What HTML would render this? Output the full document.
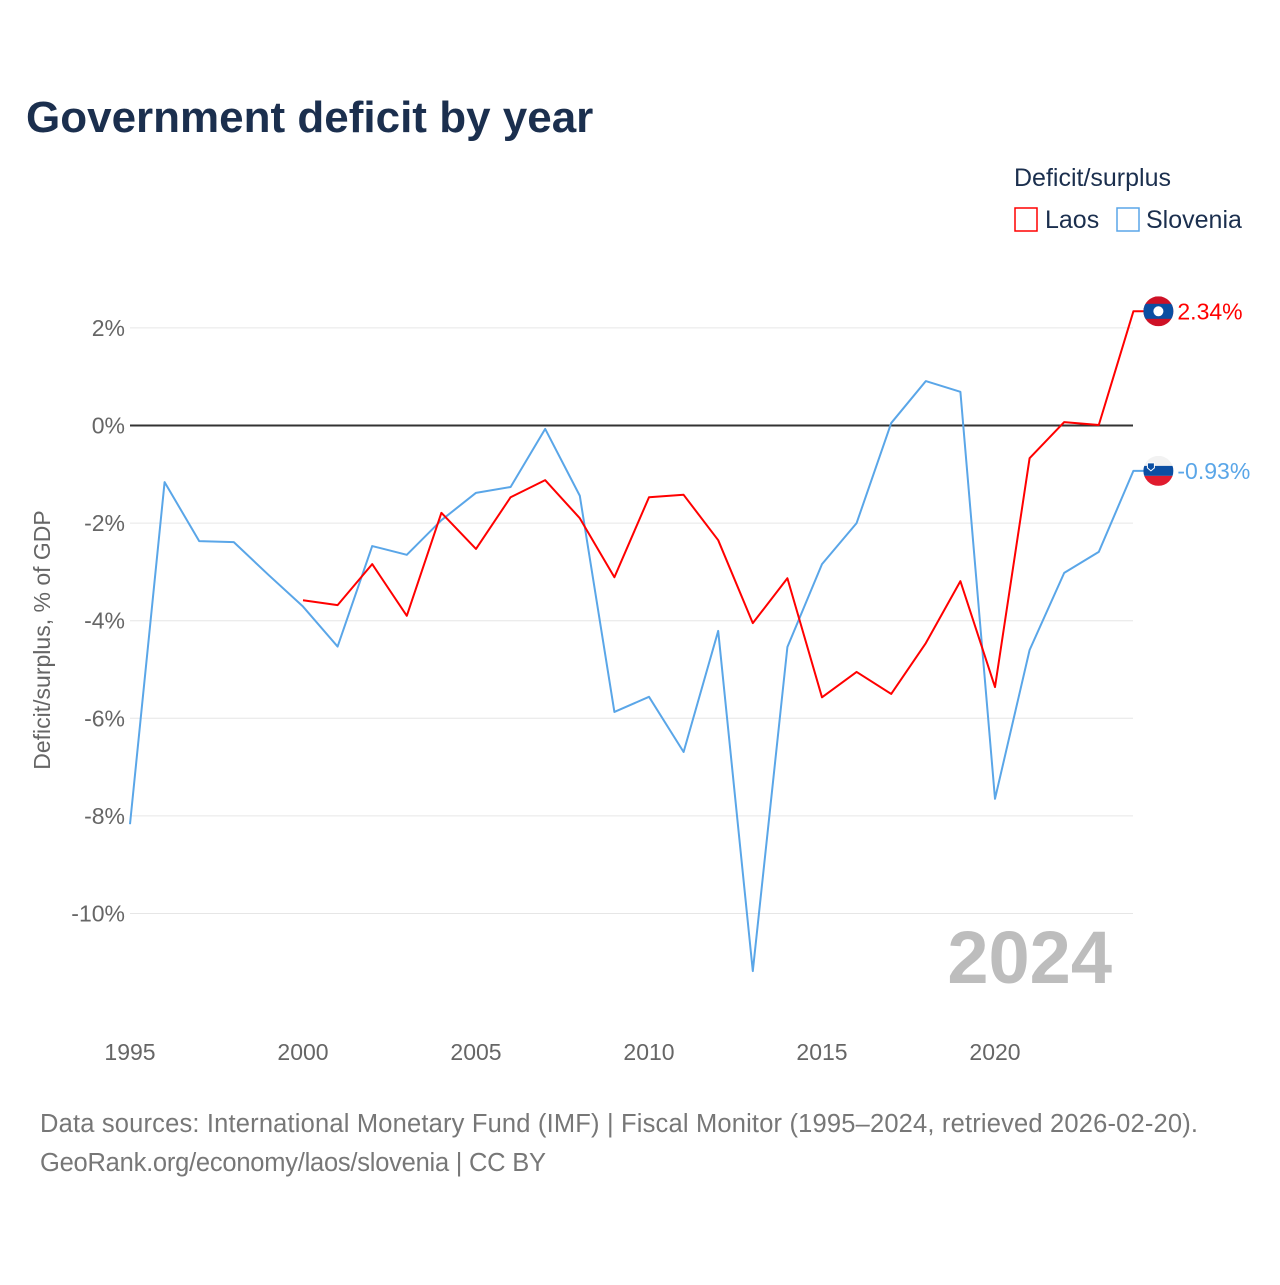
<!DOCTYPE html>
<html><head><meta charset="utf-8"><style>
body{margin:0;background:#fff;width:1280px;height:1280px;overflow:hidden;font-family:"Liberation Sans",sans-serif}
</style></head><body>
<svg width="1280" height="1280" xmlns="http://www.w3.org/2000/svg" font-family="Liberation Sans, sans-serif">
<defs><clipPath id="lc"><circle id="lcc" r="15"/></clipPath><clipPath id="sc"><circle id="scc" r="15"/></clipPath></defs>
<text x="26" y="132" font-size="44" font-weight="bold" fill="#1b2f4e">Government deficit by year</text>
<text x="1014" y="186" font-size="25" fill="#1b2f4e">Deficit/surplus</text>
<g><rect x="1015" y="208" width="22" height="23" fill="none" stroke="#f00" stroke-width="1.5"/><text x="1045" y="228" font-size="25" fill="#1b2f4e">Laos</text></g>
<g><rect x="1117" y="208" width="22" height="23" fill="none" stroke="#5aa6e8" stroke-width="1.5"/><text x="1146" y="228" font-size="25" fill="#1b2f4e">Slovenia</text></g>
<g id="grid"></g>
<g id="ticks"></g>
<text transform="translate(50,640) rotate(-90)" text-anchor="middle" font-size="23" fill="#666">Deficit/surplus, % of GDP</text>
<text x="1112" y="983" text-anchor="end" font-size="74" font-weight="bold" fill="#bdbdbd">2024</text>
<g id="series"></g>
<text x="40" y="1132" font-size="25.5" fill="#777" textLength="1158">Data sources: International Monetary Fund (IMF) | Fiscal Monitor (1995–2024, retrieved 2026-02-20).</text>
<text x="40" y="1171" font-size="25.5" fill="#777" textLength="506">GeoRank.org/economy/laos/slovenia | CC BY</text>
</svg>
<script>
const years=[1995,1996,1997,1998,1999,2000,2001,2002,2003,2004,2005,2006,2007,2008,2009,2010,2011,2012,2013,2014,2015,2016,2017,2018,2019,2020,2021,2022,2023,2024];
const slovenia=[-8.17,-1.16,-2.37,-2.39,-3.06,-3.71,-4.53,-2.47,-2.65,-1.94,-1.38,-1.26,-0.07,-1.44,-5.87,-5.56,-6.69,-4.21,-11.18,-4.54,-2.84,-2.0,0.05,0.91,0.69,-7.65,-4.6,-3.02,-2.59,-0.93];
const laos=[null,null,null,null,null,-3.58,-3.68,-2.84,-3.9,-1.79,-2.53,-1.47,-1.12,-1.9,-3.11,-1.47,-1.42,-2.35,-4.05,-3.13,-5.57,-5.05,-5.5,-4.46,-3.19,-5.36,-0.67,0.07,0.01,2.34];
const yTicks=[2,0,-2,-4,-6,-8,-10];
const xTicks=[1995,2000,2005,2010,2015,2020];
const NS="http://www.w3.org/2000/svg";
const X=v=>130+(v-1995)*34.6;
const Y=v=>425.5-v*48.8;
function mk(t,a,p){const e=document.createElementNS(NS,t);for(const k in a)e.setAttribute(k,a[k]);p.appendChild(e);return e;}
const grid=document.getElementById('grid'),ticks=document.getElementById('ticks'),ser=document.getElementById('series');
yTicks.forEach(v=>{
 const l=mk('line',{x1:130,x2:1133,y1:Y(v),y2:Y(v),stroke:v===0?'#333':'#e6e6e6','stroke-width':v===0?2:1},grid);
 
 
 const t=mk('text',{x:125,y:Y(v)+8,'text-anchor':'end','font-size':23,fill:'#666'},ticks);
 t.textContent=v+'%';
 
 
});
xTicks.forEach(v=>{
 const t=mk('text',{x:X(v),y:1060,'text-anchor':'middle','font-size':23,fill:'#666'},ticks);
 t.textContent=v;
 
 
});
function line(vals,color,name){
 let d='';let last=null;
 vals.forEach((v,i)=>{if(v==null)return;d+=(d?'L':'M')+X(years[i])+','+Y(v);last=[X(years[i]),Y(v)];});
 d+='L'+(last[0]+12)+','+last[1];
 const p=mk('path',{d:d,fill:'none',stroke:color,'stroke-width':2,'stroke-linejoin':'round'},ser);
 
 
 return last;
}
const ls=line(slovenia,'#5aa6e8','slovenia');
const ll=line(laos,'#f00','laos');
// Laos flag
const cl=ll[0]+25,yl=ll[1];
document.getElementById('lcc').setAttribute('cx',cl);
document.getElementById('lcc').setAttribute('cy',yl);
const gl=mk('g',{'clip-path':'url(#lc)'},ser);


mk('rect',{x:cl-15,y:yl-15,width:30,height:30,fill:'#ce1126'},gl);
mk('rect',{x:cl-15,y:yl-7.5,width:30,height:15,fill:'#0b4ea2'},gl);
mk('circle',{cx:cl,cy:yl,r:5,fill:'#fff'},gl);
const tl=mk('text',{x:cl+19,y:yl+8,'font-size':23,fill:'#f00'},ser);
tl.textContent=laos[laos.length-1].toFixed(2)+'%';


// Slovenia flag
const cs=ls[0]+25,ys=ls[1];
document.getElementById('scc').setAttribute('cx',cs);
document.getElementById('scc').setAttribute('cy',ys);
const gs=mk('g',{'clip-path':'url(#sc)'},ser);


mk('rect',{x:cs-15,y:ys-15,width:30,height:10,fill:'#f2f2f2'},gs);
mk('rect',{x:cs-15,y:ys-5,width:30,height:10,fill:'#0b4ea2'},gs);
mk('rect',{x:cs-15,y:ys+5,width:30,height:10,fill:'#e01b2e'},gs);
mk('path',{d:`M${cs-11},${ys-8}h7v5l-3.5,3l-3.5,-3z`,fill:'#0b4ea2',stroke:'#fff','stroke-width':1},gs);
const ts=mk('text',{x:cs+19,y:ys+8,'font-size':23,fill:'#5aa6e8'},ser);
ts.textContent=slovenia[slovenia.length-1].toFixed(2)+'%';


</script>
</body></html>
